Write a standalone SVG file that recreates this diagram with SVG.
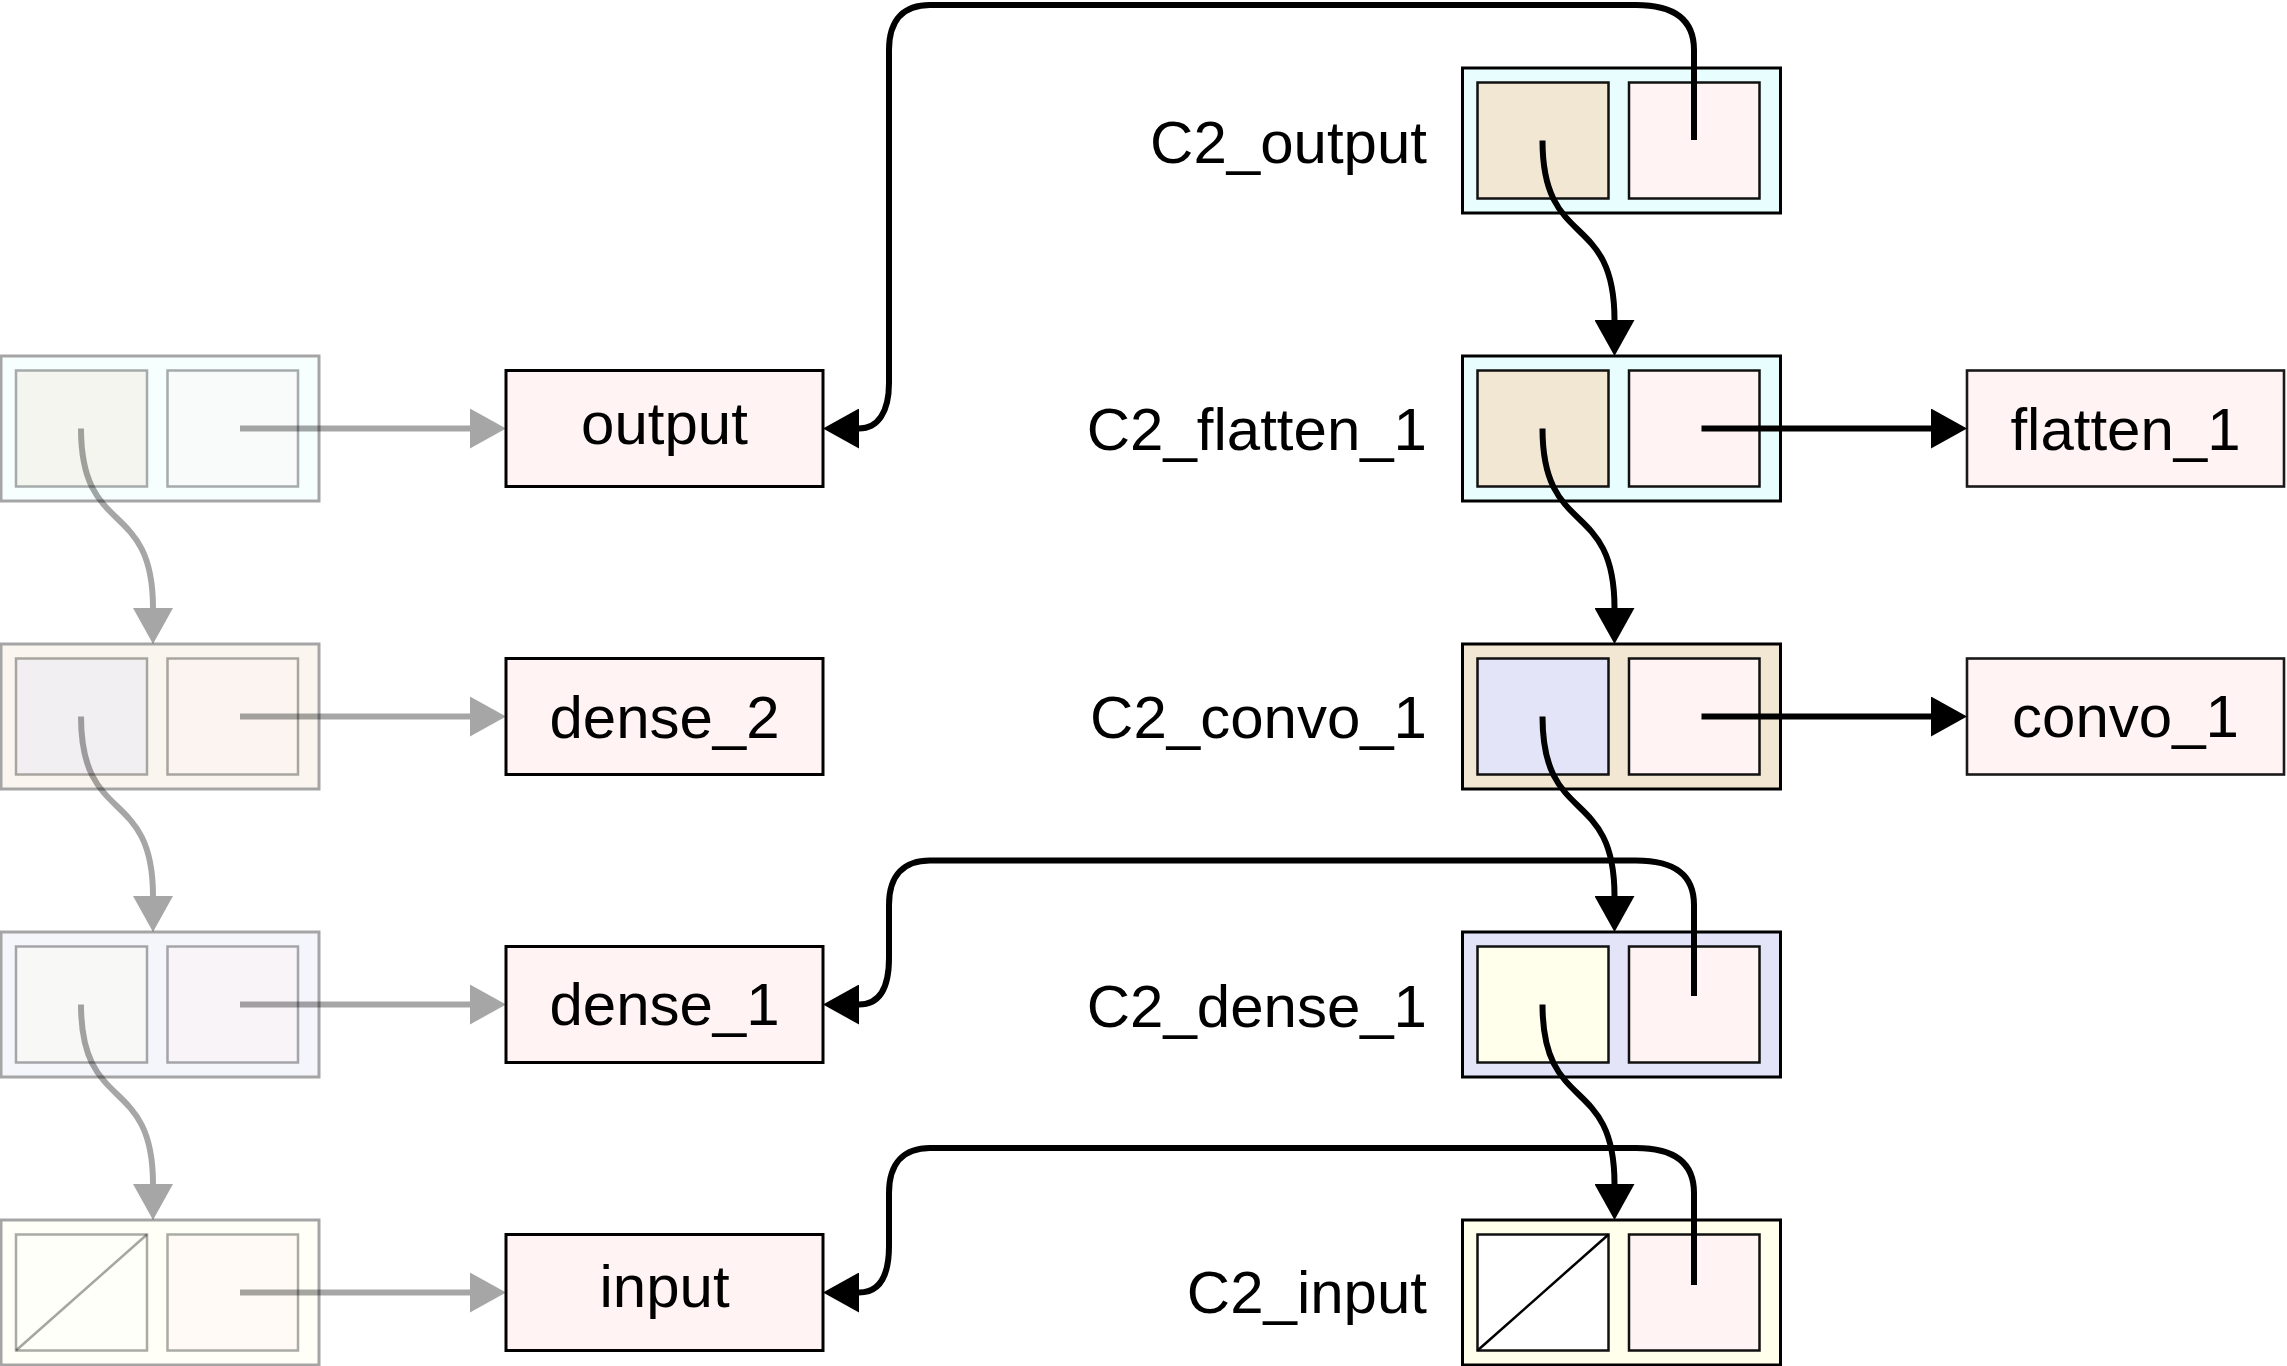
<svg xmlns="http://www.w3.org/2000/svg" width="2287" height="1366" viewBox="0 0 2287 1366">
<style>
.bg{fill:#fff}
.outer{stroke:#000;stroke-width:3}
.inner{stroke:#111;stroke-width:2.5}
.diag{stroke:#000;stroke-width:2.5}
.box{fill:#fff3f3;stroke:#000;stroke-width:3}
.box2{fill:#fff3f3;stroke:#1a1a1a;stroke-width:2.6}
.cyan{fill:#e8fefe}
.beige{fill:#f2e7d3}
.lav{fill:#e3e4f7}
.yel{fill:#ffffeb}
.pink{fill:#fff3f3}
.white{fill:#fff}
.ghost rect,.ghost line{opacity:.35}
.edge{fill:none;stroke:#000;stroke-width:6}
.edge-g{fill:none;stroke:#000;stroke-opacity:.35;stroke-width:6}
.lbl{font-family:'Liberation Sans',Arial,Helvetica,sans-serif;font-size:60px;fill:#000}
.mid{text-anchor:middle}
.end{text-anchor:end}
</style>
<defs>
<marker id="ah" markerUnits="userSpaceOnUse" markerWidth="36" markerHeight="40" viewBox="0 0 36 40" refX="0" refY="20" orient="auto"><path d="M0,0 L36,20 L0,40 Z" fill="#000"/></marker>
<marker id="ahg" markerUnits="userSpaceOnUse" markerWidth="36" markerHeight="40" viewBox="0 0 36 40" refX="0" refY="20" orient="auto"><path d="M0,0 L36,20 L0,40 Z" fill="#000" fill-opacity="0.35"/></marker>
</defs>
<rect class="bg" x="0" y="0" width="2287" height="1366"/>

<!-- faded left column -->
<g id="old_output_node" class="ghost" transform="translate(1,356)">
<rect class="outer cyan" x="0" y="0" width="318" height="145"/>
<rect class="inner beige" x="15" y="14.5" width="131" height="116"/>
<rect class="inner pink" x="166.5" y="14.5" width="130.5" height="116"/>
</g>
<g id="old_dense_2_node" class="ghost" transform="translate(1,644)">
<rect class="outer beige" x="0" y="0" width="318" height="145"/>
<rect class="inner lav" x="15" y="14.5" width="131" height="116"/>
<rect class="inner pink" x="166.5" y="14.5" width="130.5" height="116"/>
</g>
<g id="old_dense_1_node" class="ghost" transform="translate(1,932)">
<rect class="outer lav" x="0" y="0" width="318" height="145"/>
<rect class="inner yel" x="15" y="14.5" width="131" height="116"/>
<rect class="inner pink" x="166.5" y="14.5" width="130.5" height="116"/>
</g>
<g id="old_input_node" class="ghost" transform="translate(1,1220)">
<rect class="outer yel" x="0" y="0" width="318" height="145"/>
<rect class="inner white" x="15" y="14.5" width="131" height="116"/>
<line class="diag" x1="15" y1="130.5" x2="146" y2="14.5"/>
<rect class="inner pink" x="166.5" y="14.5" width="130.5" height="116"/>
</g>

<!-- name boxes -->
<g id="output">
<rect class="box" x="506" y="370.5" width="317" height="116"/>
<text class="lbl mid" x="664.5" y="443.5">output</text>
</g>
<g id="dense_2">
<rect class="box" x="506" y="658.5" width="317" height="116"/>
<text class="lbl mid" x="664.5" y="738">dense_2</text>
</g>
<g id="dense_1">
<rect class="box" x="506" y="946.5" width="317" height="116"/>
<text class="lbl mid" x="664.5" y="1025">dense_1</text>
</g>
<g id="input">
<rect class="box" x="506" y="1234.5" width="317" height="116"/>
<text class="lbl mid" x="664.5" y="1306.5">input</text>
</g>
<g id="flatten_1">
<rect class="box2" x="1967" y="370.5" width="317" height="116"/>
<text class="lbl mid" x="2125.5" y="450">flatten_1</text>
</g>
<g id="convo_1">
<rect class="box2" x="1967" y="658.5" width="317" height="116"/>
<text class="lbl mid" x="2125.5" y="737">convo_1</text>
</g>

<!-- right column -->
<g id="C2_output">
<text class="lbl end" x="1427" y="162.5">C2_output</text>
<g transform="translate(1462.5,68)">
<rect class="outer cyan" x="0" y="0" width="318" height="145"/>
<rect class="inner beige" x="15" y="14.5" width="131" height="116"/>
<rect class="inner pink" x="166.5" y="14.5" width="130.5" height="116"/>
</g>
</g>
<g id="C2_flatten_1">
<text class="lbl end" x="1427" y="450">C2_flatten_1</text>
<g transform="translate(1462.5,356)">
<rect class="outer cyan" x="0" y="0" width="318" height="145"/>
<rect class="inner beige" x="15" y="14.5" width="131" height="116"/>
<rect class="inner pink" x="166.5" y="14.5" width="130.5" height="116"/>
</g>
</g>
<g id="C2_convo_1">
<text class="lbl end" x="1427" y="738.3">C2_convo_1</text>
<g transform="translate(1462.5,644)">
<rect class="outer beige" x="0" y="0" width="318" height="145"/>
<rect class="inner lav" x="15" y="14.5" width="131" height="116"/>
<rect class="inner pink" x="166.5" y="14.5" width="130.5" height="116"/>
</g>
</g>
<g id="C2_dense_1">
<text class="lbl end" x="1427" y="1027">C2_dense_1</text>
<g transform="translate(1462.5,932)">
<rect class="outer lav" x="0" y="0" width="318" height="145"/>
<rect class="inner yel" x="15" y="14.5" width="131" height="116"/>
<rect class="inner pink" x="166.5" y="14.5" width="130.5" height="116"/>
</g>
</g>
<g id="C2_input">
<text class="lbl end" x="1427" y="1313">C2_input</text>
<g transform="translate(1462.5,1220)">
<rect class="outer yel" x="0" y="0" width="318" height="145"/>
<rect class="inner white" x="15" y="14.5" width="131" height="116"/>
<line class="diag" x1="15" y1="130.5" x2="146" y2="14.5"/>
<rect class="inner pink" x="166.5" y="14.5" width="130.5" height="116"/>
</g>
</g>

<!-- connectors -->
<g id="connectors">
<!-- faded -->
<path class="edge-g" marker-end="url(#ahg)" d="M81,428.5 C81,538.5 153,498 153,608"/>
<path class="edge-g" marker-end="url(#ahg)" d="M81,716.5 C81,826.5 153,786 153,896"/>
<path class="edge-g" marker-end="url(#ahg)" d="M81,1004.5 C81,1114.5 153,1074 153,1184"/>
<path class="edge-g" marker-end="url(#ahg)" d="M240,428.5 H470"/>
<path class="edge-g" marker-end="url(#ahg)" d="M240,716.5 H470"/>
<path class="edge-g" marker-end="url(#ahg)" d="M240,1004.5 H470"/>
<path class="edge-g" marker-end="url(#ahg)" d="M240,1292.5 H470"/>
<!-- right column next -->
<path class="edge" marker-end="url(#ah)" d="M1542.5,140.5 C1542.5,250.5 1614.5,210 1614.5,320"/>
<path class="edge" marker-end="url(#ah)" d="M1542.5,428.5 C1542.5,538.5 1614.5,498 1614.5,608"/>
<path class="edge" marker-end="url(#ah)" d="M1542.5,716.5 C1542.5,826.5 1614.5,786 1614.5,896"/>
<path class="edge" marker-end="url(#ah)" d="M1542.5,1004.5 C1542.5,1114.5 1614.5,1074 1614.5,1184"/>
<!-- right column names -->
<path class="edge" marker-end="url(#ah)" d="M1701.5,428.5 H1931"/>
<path class="edge" marker-end="url(#ah)" d="M1701.5,716.5 H1931"/>
<!-- loops to old names -->
<path class="edge" marker-end="url(#ah)" d="M1694,140 L1694,50 C1694,20 1675,5 1636,5 L930,5 C905,5 889,18 889,50 L889,383 C889,412 878,428.5 859,428.5"/>
<path class="edge" marker-end="url(#ah)" d="M1694,996 L1694,905 C1694,875 1675,860.5 1636,860.5 L930,860.5 C905,860.5 889,874 889,905 L889,958 C889,990 878,1004.5 859,1004.5"/>
<path class="edge" marker-end="url(#ah)" d="M1694,1285 L1694,1193 C1694,1163 1675,1148 1636,1148 L930,1148 C905,1148 889,1162 889,1193 L889,1246 C889,1278 878,1292.5 859,1292.5"/>
</g>
</svg>
